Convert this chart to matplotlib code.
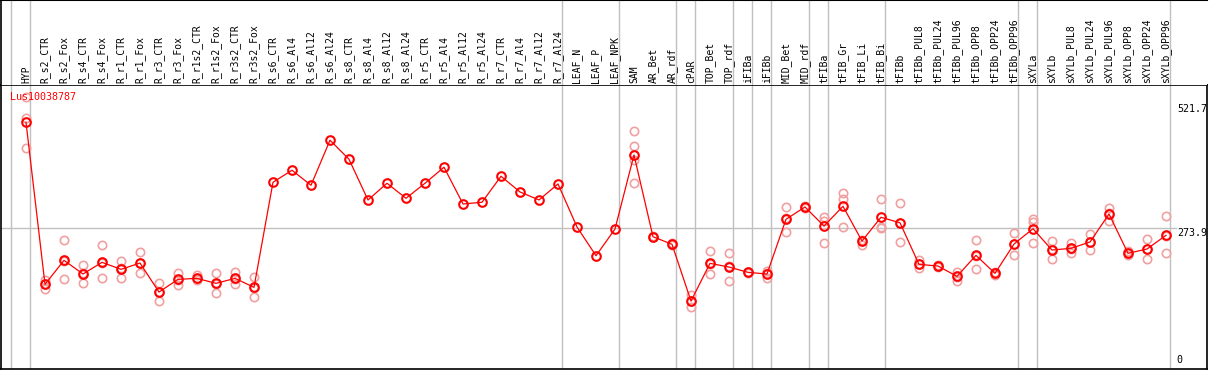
import numpy as np
import matplotlib
matplotlib.use("Agg")
import matplotlib.pyplot as plt
import matplotlib.transforms as mtransforms

nan = np.nan

categories = ['HYP', 'R_s2_CTR', 'R_s2_Fox', 'R_s4_CTR', 'R_s4_Fox', 'R_r1_CTR', 'R_r1_Fox',
              'R_r3_CTR', 'R_r3_Fox', 'R_r1s2_CTR', 'R_r1s2_Fox', 'R_r3s2_CTR', 'R_r3s2_Fox',
              'R_s6_CTR', 'R_s6_Al4', 'R_s6_Al12', 'R_s6_Al24', 'R_s8_CTR', 'R_s8_Al4', 'R_s8_Al12',
              'R_s8_Al24', 'R_r5_CTR', 'R_r5_Al4', 'R_r5_Al12', 'R_r5_Al24', 'R_r7_CTR', 'R_r7_Al4',
              'R_r7_Al12', 'R_r7_Al24', 'LEAF_N', 'LEAF_P', 'LEAF_NPK', 'SAM', 'AR_Bet', 'AR_rdf',
              'cPAR', 'TOP_Bet', 'TOP_rdf', 'iFIBa', 'iFIBb', 'MID_Bet', 'MID_rdf', 'tFIBa',
              'tFIB_Gr', 'tFIB_Li', 'tFIB_Bi', 'tFIBb', 'tFIBb_PUL8', 'tFIBb_PUL24', 'tFIBb_PUL96',
              'tFIBb_OPP8', 'tFIBb_OPP24', 'tFIBb_OPP96', 'sXYLa', 'sXYLb', 'sXYLb_PUL8',
              'sXYLb_PUL24', 'sXYLb_PUL96', 'sXYLb_OPP8', 'sXYLb_OPP24', 'sXYLb_OPP96']

# mean expression per sample
means = [485.1, 161.3, 209.3, 182.0, 205.3, 191.3, 203.9, 145.9, 171.3, 173.3, 163.3, 173.3, 155.3,
         365.3, 389.3, 359.3, 449.3, 411.3, 329.9, 363.3, 333.3, 363.3, 395.3, 321.9, 325.3,
         377.3, 345.9, 329.9, 361.9, 275.9, 218.5, 271.9, 419.9, 256.5, 241.3, 127.9, 203.3,
         195.9, 185.3, 182.0, 291.3, 315.9, 277.9, 317.3, 247.9, 295.3, 284.3, 201.3, 197.9,
         177.3, 219.3, 183.3, 241.9, 272.5, 229.9, 233.3, 245.9, 301.9, 223.3, 231.9, 259.3]

# individual replicates (nan where only one sample)
rep_a = [535.3, 169.9, 249.3, 199.7, 239.9, 207.9, 225.3, 163.3, 183.3, 180.0, 183.3, 186.6, 176.6,
         nan, nan, nan, nan, nan, nan, nan, nan, nan, nan, nan, nan, nan, nan, nan, nan, nan, nan, nan,
         467.1, 258.0, 243.0, 140.0, 227.3, 223.3, 186.6, 188.6, 315.3, 318.0, 296.5, 343.8, 249.0,
         331.2, 323.3, 210.0, 200.0, 186.6, 249.3, 185.0, 263.3, 291.3, 247.9, 243.3, 261.9, 313.3,
         227.9, 251.3, 297.3]
rep_b = [494.5, 161.3, 207.3, 183.0, 203.0, 193.0, 203.0, 146.0, 170.0, 173.0, 163.0, 172.0, 155.0,
         nan, nan, nan, nan, nan, nan, nan, nan, nan, nan, nan, nan, nan, nan, nan, nan, nan, nan, nan,
         437.9, 256.5, 241.0, 128.0, 201.0, 197.0, 186.0, 183.0, 293.0, 316.0, 288.5, 331.2, 247.9,
         276.5, 284.0, 201.0, 198.0, 177.0, 218.0, 184.0, 242.0, 286.5, 231.0, 232.0, 246.0, 304.0,
         223.0, 232.0, 258.0]
rep_c = [433.3, 151.9, 171.3, 163.3, 173.3, 173.3, 183.3, 127.9, 160.6, 170.0, 143.4, 161.3, 135.4,
         nan, nan, nan, nan, nan, nan, nan, nan, nan, nan, nan, nan, nan, nan, nan, nan, nan, nan, nan,
         409.8, 255.0, 240.0, 116.6, 181.4, 167.4, 183.3, 174.6, 265.3, 314.0, 243.3, 275.9, 239.9,
         273.3, 245.3, 193.4, 196.0, 168.6, 191.4, 180.0, 220.0, 243.3, 211.4, 224.5, 229.3, 288.5,
         220.0, 211.4, 223.3]
rep_sam_extra = {32: 363.2}

group_ends = [-1, 0, 28, 31, 34, 35, 37, 38, 39, 41, 42, 45, 52, 53, 60]
tick_values = [521.7, 273.9, 0]
gene = 'Lus10038787'

W, H = 1209, 370
fig = plt.figure(figsize=(W / 100, H / 100), dpi=100)
ax = fig.add_axes([1 / W, 1 / H, 1206 / W, 284 / H])
axh = fig.add_axes([1 / W, 285 / H, 1206 / W, 85 / H], sharex=ax)

x = np.arange(len(categories))
xlim = (-25 / 19, 1181 / 19)
ax.set_xlim(xlim)
ax.set_ylim(-7.8, 559.6)
axh.set_ylim(0, 85)

for a in (ax, axh):
    a.set_xticks([])
    a.set_yticks([])
    for b in group_ends:
        a.axvline(b + 0.23, color='#c0c0c0', lw=1, zorder=0)

for s in ['top', 'left', 'bottom', 'right']:
    ax.spines[s].set_color('black')
    ax.spines[s].set_linewidth(1.2)
axh.spines['right'].set_visible(False)
axh.spines['bottom'].set_visible(False)
axh.spines['top'].set_linewidth(1.5)
axh.spines['left'].set_linewidth(1.2)

ax.axhline(273.9, xmax=0.974, color='#c0c0c0', lw=1, zorder=0)

# replicates
for reps in (rep_a, rep_b, rep_c):
    ax.plot(x, reps, linestyle='none', marker='o', ms=6, mfc='none', mec='#f0a0a0', mew=1.2, zorder=2)
ax.plot(list(rep_sam_extra.keys()), list(rep_sam_extra.values()), linestyle='none', marker='o',
        ms=6, mfc='none', mec='#f0a0a0', mew=1.2, zorder=2)

# means
ax.plot(x, means, color='red', lw=0.9, zorder=3)
ax.plot(x, means, linestyle='none', marker='o', ms=6.2, mfc='none', mec='red', mew=1.5, zorder=4)

mono = 'DejaVu Sans Mono'
for i, c in enumerate(categories):
    axh.text(i, 2, c, rotation=90, ha='center', va='bottom', fontsize=7, family=mono)

ax.text(0.0075, 0.975, gene, transform=ax.transAxes, color='red', fontsize=7.2, family=mono,
        ha='left', va='top', zorder=5)

trans = mtransforms.blended_transform_factory(ax.transAxes, ax.transData)
for v in tick_values:
    ax.text(0.975, v, f'{v:g}', transform=trans, fontsize=7.2, family=mono, ha='left',
            va='top' if v > 0 else 'bottom')

fig.savefig('out.png', dpi=100)
